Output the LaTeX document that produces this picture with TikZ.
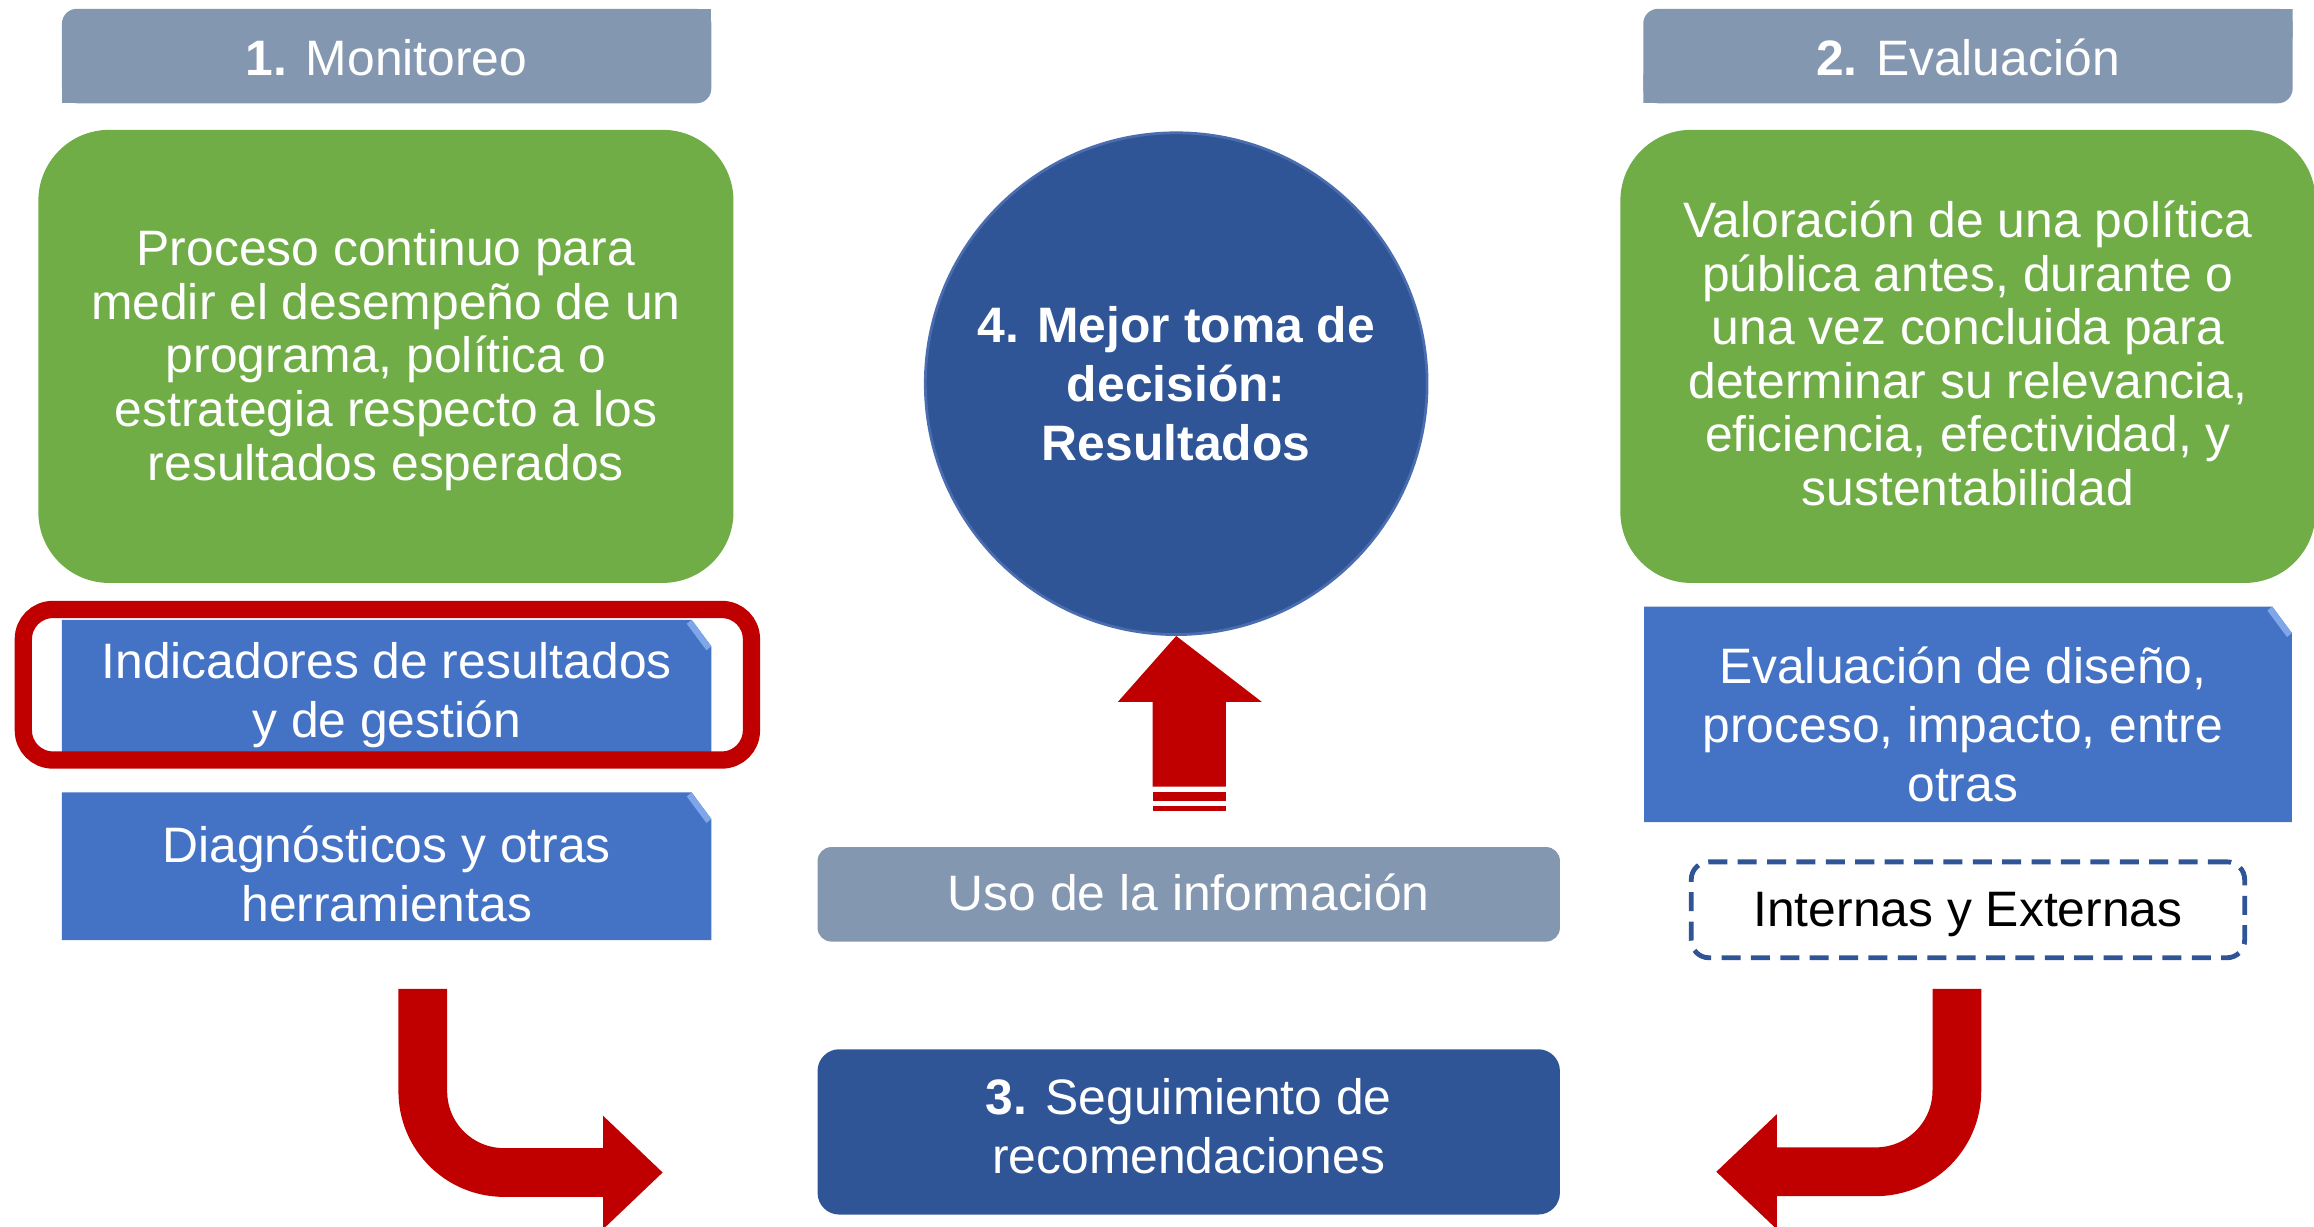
\documentclass[tikz,border=0pt]{standalone}
\usepackage{fontspec}
\setmainfont{Liberation Sans}
\usetikzlibrary{calc}
\definecolor{hdrgray}{HTML}{8497B0}
\definecolor{mygreen}{HTML}{70AD47}
\definecolor{myblue}{HTML}{4472C4}
\definecolor{foldblue}{HTML}{7FA6E8}
\definecolor{darkblue}{HTML}{2F5597}
\definecolor{circedge}{HTML}{4A6DB0}
\definecolor{myred}{HTML}{C00000}
\newcommand\myfont{\fontsize{14.4}{15.5}\selectfont}
\newcommand\myfontw{\fontsize{14.4}{17}\selectfont}
\begin{document}
\begin{tikzpicture}[x=0.015cm,y=-0.015cm,
  txt/.style={inner sep=0pt, text=white, align=center, font=\myfontw},
  hdrbox/.style={minimum width=6.6cm, minimum height=0.96cm, inner sep=0pt,
    text=white, font=\myfont,
    path picture={
      \fill[hdrgray, rounded corners=0.15cm] (path picture bounding box.south west) rectangle (path picture bounding box.north east);
      \fill[hdrgray] (path picture bounding box.north east) rectangle ++(-0.3cm,-0.3cm);
      \fill[hdrgray] (path picture bounding box.south west) rectangle ++(0.3cm,0.3cm);
    }},
  greenbox/.style={fill=mygreen, rounded corners=0.72cm, minimum width=7.065cm,
    minimum height=4.605cm, inner sep=0pt},
  foldbox/.style={inner sep=0pt,
    path picture={
      \fill[myblue] (path picture bounding box.south west) -- (path picture bounding box.north west)
        -- ([xshift=-0.2cm]path picture bounding box.north east)
        -- ([yshift=-0.27cm]path picture bounding box.north east)
        -- (path picture bounding box.south east) -- cycle;
      \fill[foldblue] ([xshift=-0.2cm]path picture bounding box.north east)
        -- ([yshift=-0.27cm]path picture bounding box.north east)
        -- ([xshift=-0.05cm,yshift=-0.31cm]path picture bounding box.north east)
        -- ([xshift=-0.25cm,yshift=-0.04cm]path picture bounding box.north east) -- cycle;
    }},
  graybox/.style={fill=hdrgray, rounded corners=0.14cm, minimum width=7.545cm,
    minimum height=0.96cm, inner sep=0pt},
  darkbox/.style={fill=darkblue, rounded corners=0.22cm, minimum width=7.545cm,
    minimum height=1.68cm, inner sep=0pt},
  dashbox/.style={draw=darkblue, line width=1.4pt, dash pattern=on 5.5pt off 3pt,
    rounded corners=0.18cm, minimum width=5.625cm, minimum height=0.975cm,
    inner sep=0pt},
  decircle/.style={circle, fill=darkblue, draw=circedge, line width=0.8pt,
    minimum size=5.1cm, inner sep=0pt, text=white, align=center,
    font=\myfontw\bfseries},
  redframe/.style={draw=myred, line width=5pt, rounded corners=0.3cm,
    minimum width=7.4cm, minimum height=1.53cm, inner sep=0pt},
  bentarrow/.style={draw=myred, line width=14.1pt, rounded corners=0.825cm},
  redhead/.style={fill=myred}
]
\useasboundingbox (0,0) rectangle (1568,831);

% headers
\node[hdrbox] (h1) at (262,38) {};
\node[txt, font=\myfont] (h1t) at (262,39) {\textbf{1.} Monitoreo};
\node[hdrbox] (h2) at (1333.5,38) {};
\node[txt, font=\myfont] (h2t) at (1333.5,39) {\textbf{2.} Evaluación};

% green boxes
\node[greenbox] (g1) at (261.5,241.5) {};
\node[txt, font=\myfont] (g1t) at (261.5,244) {Proceso continuo para\\medir el desempeño de un\\programa, política o\\estrategia respecto a los\\resultados esperados};
\node[greenbox] (g2) at (1333.5,241.5) {};
\node[txt, font=\myfont] (g2t) at (1333.5,239.5) {Valoración de una política\\pública antes, durante o\\una vez concluida para\\determinar su relevancia,\\eficiencia, efectividad, y\\sustentabilidad};

% blue folded boxes
\node[foldbox, minimum width=6.6cm, minimum height=1.35cm] (b1) at (262,465) {};
\node[txt] (b1t) at (262,471) {Indicadores de resultados\\y de gestión};
\node[foldbox, minimum width=6.6cm, minimum height=1.5cm] (b2) at (262,587) {};
\node[txt] (b2t) at (262,592) {Diagnósticos y otras\\herramientas};
\node[foldbox, minimum width=6.585cm, minimum height=2.19cm] (b3) at (1333.5,484) {};
\node[txt] (b3t) at (1330,491) {Evaluación de diseño,\\proceso, impacto, entre\\otras};

% red highlight frame
\node[redframe] (hl) at (262.5,464) {};

% circle
\node[decircle] (c4) at (797,260) {4. Mejor toma de\\decisión:\\Resultados};

% center boxes
\node[graybox] (uso) at (805.5,606) {};
\node[txt, font=\myfont] (usot) at (805.5,605) {Uso de la información};
\node[darkbox] (s3) at (805.5,767) {};
\node[txt] (s3t) at (805.5,763) {\textbf{3.} Seguimiento de\\recomendaciones};
\node[dashbox] (ie) at (1333.5,616.5) {};
\node[txt, font=\myfont, text=black] (iet) at (1333.5,620) {Internas y Externas};

% up arrow
\fill[myred] (c4.south) -- (855,475.6) -- (830.7,475.6) -- (830.7,533) -- (781,533) -- (781,475.6) -- (757.5,475.6) -- cycle;
\fill[myred] (781,536.7) rectangle (830.7,542.7);
\fill[myred] (781,546) rectangle (830.7,549.5);

% bent arrows
\coordinate (la0) at (286.5,670);
\coordinate (la1) at (286.5,794.5);
\coordinate (la2) at (410,794.5);
\draw[bentarrow] (la0) -- (la1) -- (la2);
\fill[redhead] (408.6,756) -- (449,794.5) -- (408.6,833) -- cycle;

\coordinate (ra0) at (1326,670);
\coordinate (ra1) at (1326,794);
\coordinate (ra2) at (1202,794);
\draw[bentarrow] (ra0) -- (ra1) -- (ra2);
\fill[redhead] (1204,755) -- (1163,794) -- (1204,833) -- cycle;
\end{tikzpicture}
\end{document}
